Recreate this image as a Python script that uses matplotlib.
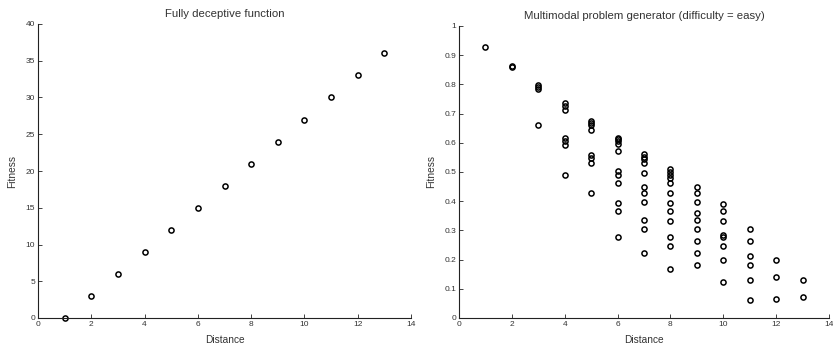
import matplotlib
matplotlib.use("Agg")
import matplotlib.pyplot as plt
from matplotlib.ticker import FuncFormatter

plt.rcParams['font.family'] = ['Liberation Sans', 'DejaVu Sans']

# Left: fully deceptive function
dec_x = [1, 2, 3, 4, 5, 6, 7, 8, 9, 10, 11, 12, 13]
dec_y = [0, 3, 6, 9, 12, 15, 18, 21, 24, 27, 30, 33, 36]

# Right: multimodal problem generator
mm_x = ([1] + [2, 2] + [3, 3, 3, 3] + [4] * 7 + [5] * 8 + [6] * 11 + [7] * 11
        + [8] * 12 + [9] * 9 + [10] * 8 + [11] * 6 + [12] * 3 + [13] * 2)
mm_y = ([0.927]
        + [0.862, 0.858]
        + [0.797, 0.790, 0.784, 0.662]
        + [0.735, 0.726, 0.712, 0.616, 0.607, 0.593, 0.489]
        + [0.675, 0.669, 0.662, 0.644, 0.559, 0.548, 0.530, 0.427]
        + [0.618, 0.612, 0.605, 0.596, 0.571, 0.505, 0.489, 0.464, 0.393, 0.366, 0.279]
        + [0.561, 0.552, 0.543, 0.530, 0.498, 0.448, 0.427, 0.398, 0.336, 0.304, 0.224]
        + [0.509, 0.500, 0.491, 0.480, 0.464, 0.427, 0.393, 0.368, 0.331, 0.279, 0.245, 0.167]
        + [0.448, 0.427, 0.398, 0.359, 0.336, 0.304, 0.265, 0.224, 0.181]
        + [0.392, 0.366, 0.331, 0.284, 0.279, 0.245, 0.199, 0.122]
        + [0.304, 0.265, 0.213, 0.182, 0.131, 0.060]
        + [0.199, 0.141, 0.065]
        + [0.131, 0.071])

W, H = 833, 347
fig = plt.figure(figsize=(W / 100, H / 100), dpi=100)
ax1 = fig.add_axes([38 / W, 29 / H, (411 - 38) / W, (318 - 24) / H])
ax2 = fig.add_axes([459 / W, 29 / H, (829 - 459) / W, (318 - 26) / H])

txtc = '#333333'
for ax in (ax1, ax2):
    for s in ('top', 'right'):
        ax.spines[s].set_visible(False)
    for s in ('left', 'bottom'):
        ax.spines[s].set_linewidth(0.8)
        ax.spines[s].set_color('#222222')
    ax.tick_params(direction='in', length=3, width=0.6, labelsize=6,
                   colors='#222222', labelcolor=txtc, pad=2)
    ax.set_xlim(0, 14)
    ax.set_xticks(range(0, 15, 2))
    ax.set_xlabel('Distance', fontsize=7.3, color=txtc, labelpad=5)
    ax.set_ylabel('Fitness', fontsize=7.3, color=txtc, labelpad=6)

ax1.plot(dec_x, dec_y, 'o', mfc='none', mec='black', mew=1.1, ms=3.7, clip_on=False)
ax1.set_ylim(0, 40)
ax1.set_yticks(range(0, 41, 5))
ax1.set_title('Fully deceptive function', fontsize=8.2, color=txtc, pad=5)

ax2.plot(mm_x, mm_y, 'o', mfc='none', mec='black', mew=1.1, ms=3.7, clip_on=False)
ax2.set_ylim(0, 1)
ax2.set_yticks([i / 10 for i in range(11)])
ax2.yaxis.set_major_formatter(FuncFormatter(lambda v, p: f'{v:g}'))
ax2.set_title('Multimodal problem generator (difficulty = easy)', fontsize=8.2, color=txtc, pad=5)

fig.savefig('out.png', dpi=100)
